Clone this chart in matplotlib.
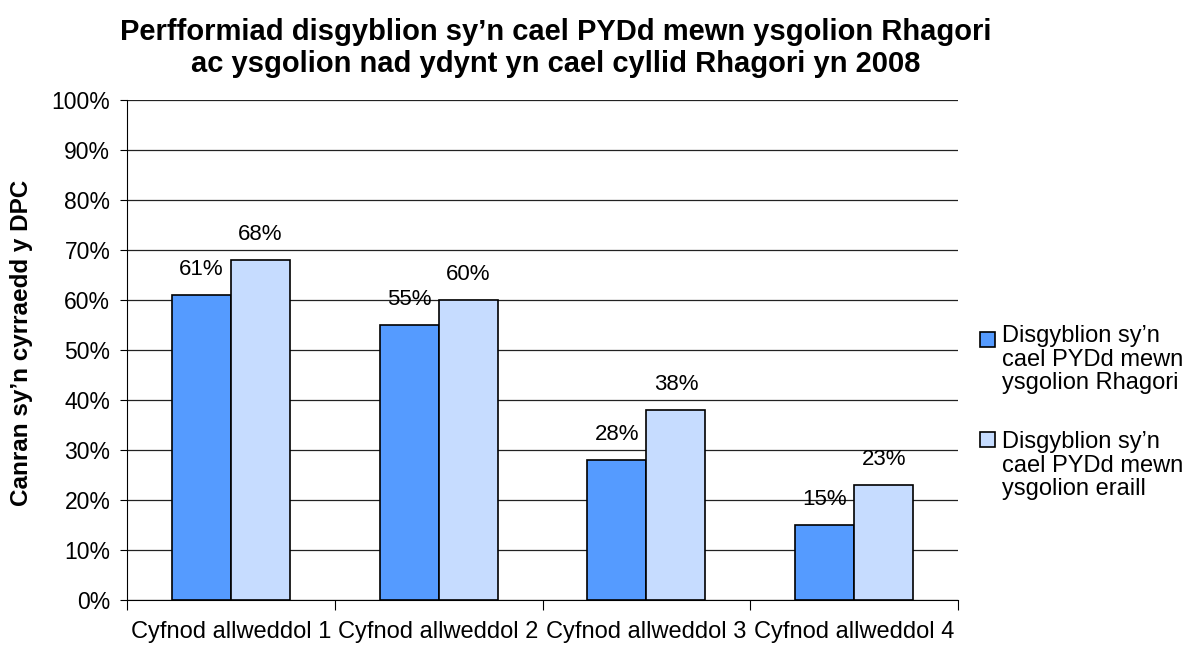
import numpy as np
import matplotlib.pyplot as plt
from matplotlib.patches import Rectangle
from matplotlib.ticker import MultipleLocator, FuncFormatter

plt.rcParams['font.family'] = ['Liberation Sans', 'DejaVu Sans']

categories = ["Cyfnod allweddol 1", "Cyfnod allweddol 2", "Cyfnod allweddol 3", "Cyfnod allweddol 4"]
rhagori = [61, 55, 28, 15]
eraill = [68, 60, 38, 23]
series_names = ["Disgyblion sy\u2019n\ncael PYDd mewn\nysgolion Rhagori",
                "Disgyblion sy\u2019n\ncael PYDd mewn\nysgolion eraill"]
colors = ["#559bff", "#c6dcff"]

fig = plt.figure(figsize=(11.89, 6.45), dpi=100)
ax = fig.add_axes([0.1068, 0.0698, 0.699, 0.7752])

x = np.arange(len(categories))
w = 0.284
b1 = ax.bar(x - w / 2, rhagori, w, color=colors[0], edgecolor="black", linewidth=1.2, zorder=3)
b2 = ax.bar(x + w / 2, eraill, w, color=colors[1], edgecolor="black", linewidth=1.2, zorder=3)

for bars, vals in ((b1, rhagori), (b2, eraill)):
    for rect, v in zip(bars, vals):
        ax.text(rect.get_x() + rect.get_width() / 2, v + 5.0, f"{v}%",
                ha="center", va="center", fontsize=16, zorder=4)

ax.set_xlim(-0.5, len(categories) - 0.5)
ax.set_ylim(0, 100)
ax.yaxis.set_major_locator(MultipleLocator(10))
ax.yaxis.set_major_formatter(FuncFormatter(lambda v, p: f"{v:.0f}%"))
ax.grid(axis="y", color="#222222", linewidth=0.9, zorder=0)

ax.set_xticks(np.arange(-0.5, len(categories)))
ax.set_xticklabels([])
ax.set_xticks(x, minor=True)
ax.set_xticklabels(categories, minor=True, fontsize=17)
ax.tick_params(axis="x", which="major", length=7, direction="out", color="black")
ax.tick_params(axis="x", which="minor", length=0, pad=15)
ax.tick_params(axis="y", length=5, labelsize=16.5, pad=7)

for s in ("top", "right"):
    ax.spines[s].set_visible(False)
ax.spines["left"].set_color("black")
ax.spines["bottom"].set_color("black")

ax.set_ylabel("Canran sy\u2019n cyrraedd y DPC", fontsize=17.5, fontweight="bold")
ax.yaxis.set_label_coords(-0.113, 0.514)

fig.text(0.467, 0.938, "Perfformiad disgyblion sy\u2019n cael PYDd mewn ysgolion Rhagori",
         ha="center", va="baseline", fontsize=21, fontweight="bold")
fig.text(0.467, 0.888, "ac ysgolion nad ydynt yn cael cyllid Rhagori yn 2008",
         ha="center", va="baseline", fontsize=21, fontweight="bold")

# legend drawn by hand so the swatch sits on the first line of each entry
for name, col, ytop, ysq in zip(series_names, colors, (0.496, 0.332), (0.462, 0.307)):
    fig.patches.append(Rectangle((0.8242, ysq), 0.0126, 0.0233, transform=fig.transFigure,
                                 facecolor=col, edgecolor="black", linewidth=1.2))
    fig.text(0.8428, ytop, name, ha="left", va="top", fontsize=17, linespacing=1.1)

plt.savefig("out.png", dpi=100)
